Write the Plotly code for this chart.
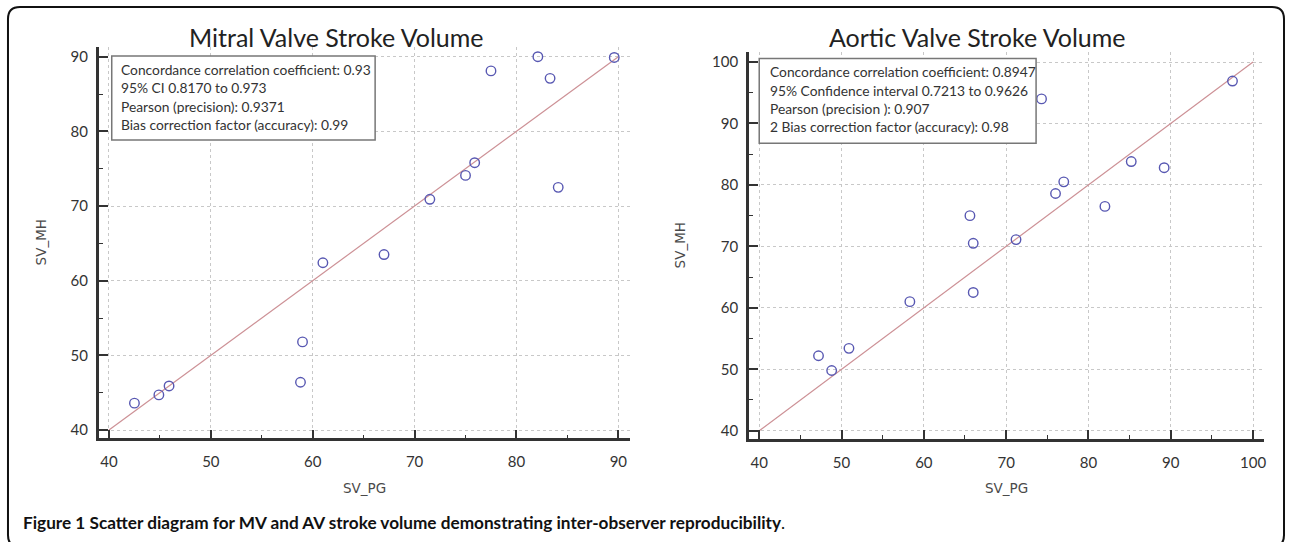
import plotly.graph_objects as go

# ---------------- data ----------------
mv_sv_pg = [82.1, 89.6, 77.5, 83.3, 75.9, 75.0, 84.1, 71.5, 67.0, 61.0, 59.0, 58.8, 45.9, 44.9, 42.5]
mv_sv_mh = [90.0, 89.9, 88.1, 87.1, 75.8, 74.1, 72.5, 70.9, 63.5, 62.4, 51.8, 46.4, 45.9, 44.7, 43.6]

av_sv_pg = [97.5, 74.3, 85.2, 89.2, 77.0, 76.0, 82.0, 65.6, 71.2, 66.0, 66.0, 58.3, 50.9, 47.2, 48.8]
av_sv_mh = [96.9, 94.0, 83.8, 82.8, 80.5, 78.6, 76.5, 75.0, 71.1, 70.5, 62.5, 61.0, 53.4, 52.2, 49.8]

mv_identity = [40, 90]
av_identity = [40, 100]

mv_ticks = [40, 50, 60, 70, 80, 90]
av_x_ticks = [40, 50, 60, 70, 80, 90, 100]
av_y_ticks = [40, 50, 60, 70, 80, 90, 100]

mv_title = "Mitral Valve Stroke Volume"
av_title = "Aortic Valve Stroke Volume"

mv_stats = [
    "Concordance correlation coefficient: 0.93",
    "95% CI 0.8170 to 0.973",
    "Pearson (precision): 0.9371",
    "Bias correction factor (accuracy): 0.99",
]
av_stats = [
    "Concordance correlation coefficient: 0.8947",
    "95% Confidence interval 0.7213 to 0.9626",
    "Pearson (precision ): 0.907",
    "2 Bias correction factor (accuracy): 0.98",
]

caption_bold = "Figure 1 Scatter diagram for MV and AV stroke volume demonstrating inter-observer reproducibility"

# ---------------- layout helpers ----------------
W, H = 1290, 542


def X(px):
    return px / W


def Y(py):
    return 1 - py / H


FONT = "Lato, 'Open Sans', sans-serif"
MARK = "rgb(88,88,178)"
LINE = "rgb(205,145,150)"
AXC = "#333333"

fig = go.Figure()

fig.add_trace(go.Scatter(x=mv_identity, y=mv_identity, mode="lines",
                         line=dict(color=LINE, width=1.2), xaxis="x", yaxis="y",
                         showlegend=False, hoverinfo="skip"))
fig.add_trace(go.Scatter(x=mv_sv_pg, y=mv_sv_mh, mode="markers",
                         marker=dict(symbol="circle-open", size=9.5, color=MARK,
                                     line=dict(width=1.4, color=MARK)),
                         xaxis="x", yaxis="y", showlegend=False))
fig.add_trace(go.Scatter(x=av_identity, y=av_identity, mode="lines",
                         line=dict(color=LINE, width=1.2), xaxis="x2", yaxis="y2",
                         showlegend=False, hoverinfo="skip"))
fig.add_trace(go.Scatter(x=av_sv_pg, y=av_sv_mh, mode="markers",
                         marker=dict(symbol="circle-open", size=9.5, color=MARK,
                                     line=dict(width=1.4, color=MARK)),
                         xaxis="x2", yaxis="y2", showlegend=False))


def axis(domain, rng, ticks, anchor, standoff):
    return dict(
        domain=domain, range=rng, anchor=anchor,
        tickmode="array", tickvals=ticks,
        showline=True, linewidth=2.6, linecolor=AXC, mirror=False,
        ticks="inside", ticklen=9, tickwidth=2.2, tickcolor=AXC,
        minor=dict(ticks="inside", ticklen=4, tickwidth=1.4, tickcolor=AXC,
                   dtick=5, tick0=0, showgrid=False),
        showgrid=True, gridcolor="#c8c8c8", griddash="dot", gridwidth=1,
        zeroline=False,
        tickfont=dict(family=FONT, size=15, color=AXC),
        ticklabelstandoff=standoff,
        fixedrange=True,
    )


fig.update_layout(
    width=W, height=H,
    margin=dict(l=0, r=0, t=0, b=0),
    paper_bgcolor="white", plot_bgcolor="white",
    xaxis=axis([X(99), X(631)], [39.0, 91.1], mv_ticks, "y", 8),
    yaxis=axis([Y(438.3), Y(46.7)], [38.89, 91.34], mv_ticks, "x", 5),
    xaxis2=axis([X(750.7), X(1266.7)], [38.75, 101.3], av_x_ticks, "y2", 8),
    yaxis2=axis([Y(439), Y(51.7)], [38.65, 101.68], av_y_ticks, "x2", 5),
)

ann = []
# titles
ann.append(dict(text=mv_title, x=X(337), y=Y(37), xref="paper", yref="paper",
                xanchor="center", yanchor="middle", showarrow=False,
                font=dict(family=FONT, size=25, color="#222")))
ann.append(dict(text=av_title, x=X(980), y=Y(37), xref="paper", yref="paper",
                xanchor="center", yanchor="middle", showarrow=False,
                font=dict(family=FONT, size=25, color="#222")))
# axis labels
for xc, yc in [(365, 488), (1009, 488)]:
    ann.append(dict(text="SV_PG", x=X(xc), y=Y(yc), xref="paper", yref="paper",
                    xanchor="center", yanchor="middle", showarrow=False,
                    font=dict(family="DejaVu Sans", size=13.5, color="#4a4a4a")))
for xc, yc in [(41, 242.5), (682, 245)]:
    ann.append(dict(text="SV_MH", x=X(xc), y=Y(yc), xref="paper", yref="paper",
                    xanchor="center", yanchor="middle", showarrow=False, textangle=-90,
                    font=dict(family="DejaVu Sans", size=13.5, color="#4a4a4a")))
# stats text
for i, t in enumerate(mv_stats):
    ann.append(dict(text=t, x=X(119), y=Y(69.3 + 18.35 * i), xref="paper", yref="paper",
                    xanchor="left", yanchor="middle", showarrow=False,
                    font=dict(family=FONT, size=13.8, color="#333")))
for i, t in enumerate(av_stats):
    ann.append(dict(text=t, x=X(769.5), y=Y(71.7 + 18.35 * i), xref="paper", yref="paper",
                    xanchor="left", yanchor="middle", showarrow=False,
                    font=dict(family=FONT, size=13.8, color="#333")))
# caption
ann.append(dict(text="<b>" + caption_bold + "</b>.", x=X(21.5), y=Y(522), xref="paper", yref="paper",
                xanchor="left", yanchor="middle", showarrow=False,
                font=dict(family=FONT, size=17.2, color="#111")))
fig.update_layout(annotations=ann)

shapes = []
# stats boxes
shapes.append(dict(type="rect", xref="paper", yref="paper", x0=X(112), x1=X(376), y0=Y(140), y1=Y(56),
                   line=dict(color="#777", width=1.5), fillcolor="white", layer="above"))
shapes.append(dict(type="rect", xref="paper", yref="paper", x0=X(761), x1=X(1038.5), y0=Y(143.3), y1=Y(58.5),
                   line=dict(color="#777", width=1.5), fillcolor="white", layer="above"))
# rounded outer frame
x0, x1, y0, y1, r = 8, 1287, 7, 547, 12
path = (f"M {X(x0 + r)},{Y(y0)} L {X(x1 - r)},{Y(y0)} Q {X(x1)},{Y(y0)} {X(x1)},{Y(y0 + r)} "
        f"L {X(x1)},{Y(y1 - r)} Q {X(x1)},{Y(y1)} {X(x1 - r)},{Y(y1)} "
        f"L {X(x0 + r)},{Y(y1)} Q {X(x0)},{Y(y1)} {X(x0)},{Y(y1 - r)} "
        f"L {X(x0)},{Y(y0 + r)} Q {X(x0)},{Y(y0)} {X(x0 + r)},{Y(y0)} Z")
shapes.append(dict(type="path", xref="paper", yref="paper", path=path,
                   line=dict(color="#111", width=2)))
fig.update_layout(shapes=shapes)

# remove the default 8px page margin so figure pixels map to window pixels
fig.write_html("out.html", config={"displayModeBar": False},
               post_script="document.body.style.margin='0';")
